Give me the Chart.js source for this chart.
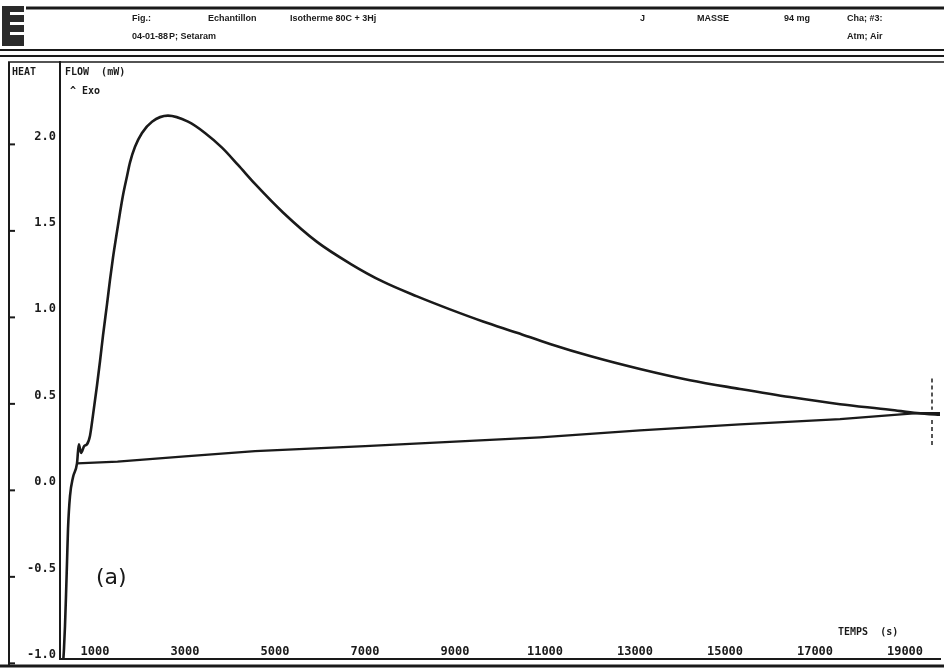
<!DOCTYPE html>
<html><head><meta charset="utf-8">
<script src="https://cdn.jsdelivr.net/npm/chart.js@4/dist/chart.umd.min.js"></script>
<style>html,body{margin:0;padding:0;background:#fff;}#wrap{width:944px;height:670px;position:relative;}</style>
</head><body><div id="wrap"><canvas id="c" width="944" height="670"></canvas></div>
<script>
// Heat flow (mW) vs time (s)
const curveTime  = [290,311,333,356,378,400,444,511,600,640,690,760,822,889,956,1044,1111,1178,1267,1333,1400,1489,1556,1622,1711,1778,1889,2044,2267,2622,3067,3444,3822,4178,4556,5178,5933,6667,7400,8156,8889,9622,10378,11111,12000,13111,14222,15333,16444,17556,18667,19267,19867];
const curveFlow  = [-1.05,-0.96,-0.83,-0.65,-0.46,-0.27,-0.08,0.03,0.11,0.22,0.17,0.21,0.22,0.27,0.39,0.56,0.70,0.85,1.03,1.17,1.30,1.45,1.56,1.66,1.77,1.85,1.94,2.02,2.085,2.12,2.085,2.02,1.935,1.835,1.725,1.56,1.39,1.265,1.16,1.075,1.00,0.93,0.865,0.80,0.73,0.655,0.59,0.54,0.493,0.452,0.42,0.40,0.39];
const baseTime   = [600,1500,3000,4556,7000,9000,10889,13111,15333,17556,19267,19867];
const baseFlow   = [0.11,0.12,0.15,0.18,0.21,0.235,0.26,0.30,0.335,0.365,0.40,0.40];
const markTime   = [19600,19600,19600,19600];
const markFlow   = [0.60,0.42,0.36,0.20];
const xTickVals  = [1000,3000,5000,7000,9000,11000,13000,15000,17000,19000];
const yTickVals  = [-1.0,-0.5,0.0,0.5,1.0,1.5,2.0];

const pts = (xs, ys) => xs.map((x, i) => ({x, y: ys[i]}));
const FONT = 'DejaVu Sans Mono';
const INK = '#1a1a1a';

const frame = {
  id: 'frame',
  beforeDraw(chart) {
    const c = chart.ctx;
    c.save();
    c.fillStyle = '#fff';
    c.fillRect(0, 0, chart.width, chart.height);
    c.restore();
  },
  afterDraw(chart) {
    const c = chart.ctx, ys = chart.scales.y;
    c.save();
    c.strokeStyle = INK;
    // header lines
    c.lineWidth = 3; c.beginPath(); c.moveTo(26, 8); c.lineTo(944, 8); c.stroke();
    c.lineWidth = 2; c.beginPath(); c.moveTo(0, 50); c.lineTo(944, 50); c.stroke();
    c.lineWidth = 2; c.beginPath(); c.moveTo(0, 56); c.lineTo(944, 56); c.stroke();
    c.lineWidth = 1.5; c.beginPath(); c.moveTo(8, 62); c.lineTo(944, 62); c.stroke();
    // outer left border and bottom
    c.lineWidth = 2; c.beginPath(); c.moveTo(9, 62); c.lineTo(9, 666); c.stroke();
    c.lineWidth = 3; c.beginPath(); c.moveTo(0, 666); c.lineTo(944, 666); c.stroke();
    // logo
    c.fillStyle = '#2a2a2a'; c.fillRect(2, 6, 22, 40);
    c.fillStyle = '#fff';
    [12, 22, 32].forEach(y => c.fillRect(10, y, 14, 3));
    // ticks on outer border
    c.lineWidth = 2;
    yTickVals.forEach(v => { const p = ys.getPixelForValue(v); c.beginPath(); c.moveTo(9, p + 8); c.lineTo(15, p + 8); c.stroke(); });
    // header text
    c.fillStyle = INK; c.font = 'bold 9px "Liberation Sans"'; c.textBaseline = 'middle';
    c.fillText('Fig.:', 132, 19);
    c.fillText('Echantillon', 208, 19);
    c.fillText('Isotherme 80C + 3Hj', 290, 19);
    c.fillText('J', 640, 19);
    c.fillText('MASSE', 697, 19);
    c.fillText('94 mg', 784, 19);
    c.fillText('Cha; #3:', 847, 19);
    c.fillText('04-01-88', 132, 37);
    c.fillText('P; Setaram', 169, 37);
    c.fillText('Atm; Air', 847, 37);
    // axis titles
    c.font = 'bold 10px ' + FONT;
    c.fillText('HEAT', 12, 72);
    c.fillText('FLOW  (mW)', 65, 72);
    c.fillText('^ Exo', 70, 91);
    c.fillText('TEMPS  (s)', 838, 632);
    c.font = '22px "DejaVu Sans"';
    c.fillText('(a)', 96, 578);
    c.restore();
  }
};

new Chart(document.getElementById('c'), {
  type: 'scatter',
  data: {
    datasets: [
      { data: pts(curveTime, curveFlow), showLine: true, borderColor: INK, borderWidth: 2.6, pointRadius: 0, cubicInterpolationMode: 'monotone' },
      { data: pts(baseTime, baseFlow), showLine: true, borderColor: INK, borderWidth: 2.2, pointRadius: 0, tension: 0 },
      { data: pts(markTime, markFlow), showLine: true, borderColor: '#555', borderWidth: 2, borderDash: [4, 3], pointRadius: 0, segment: { borderColor: ctx => ctx.p0DataIndex === 1 ? 'rgba(0,0,0,0)' : '#555' } }
    ]
  },
  options: {
    responsive: false, animation: false, devicePixelRatio: 1,
    layout: { padding: { left: 8, top: 62, right: 4, bottom: 0 } },
    plugins: { legend: { display: false }, tooltip: { enabled: false } },
    scales: {
      x: {
        type: 'linear', min: 222, max: 19778,
        afterBuildTicks: s => { s.ticks = xTickVals.map(v => ({ value: v })); },
        afterFit: s => { s.height = 6; },
        grid: { display: false, drawTicks: false },
        border: { display: true, color: INK, width: 2 },
        ticks: { mirror: true, padding: 0, maxRotation: 0, autoSkip: false, color: INK, font: { family: FONT, size: 12, weight: 'bold' }, callback: v => String(v) }
      },
      y: {
        type: 'linear', min: -1.02, max: 2.43,
        afterBuildTicks: s => { s.ticks = yTickVals.map(v => ({ value: v })); },
        afterFit: s => { s.width = 52; },
        grid: { display: false, drawTicks: false },
        border: { display: true, color: INK, width: 2 },
        ticks: { padding: 4, color: INK, font: { family: FONT, size: 12, weight: 'bold' }, callback: v => Number(v).toFixed(1) }
      }
    }
  },
  plugins: [frame]
});
</script></body></html>
